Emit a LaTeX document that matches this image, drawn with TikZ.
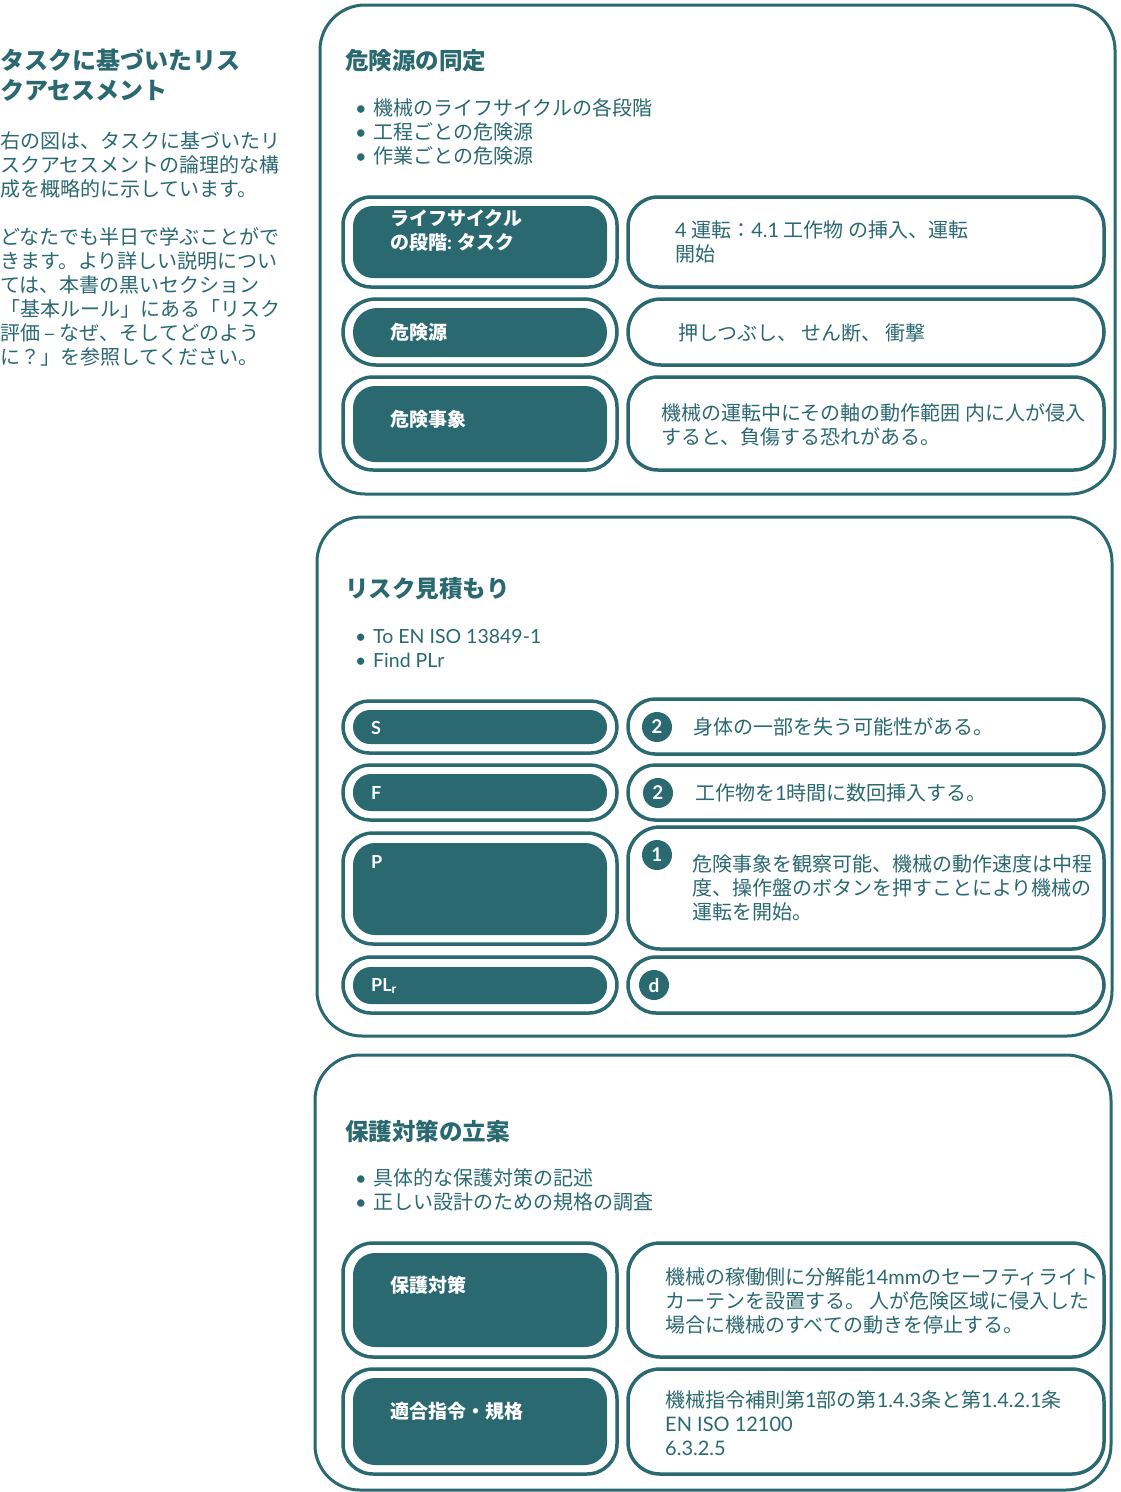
\documentclass[tikz,border=0pt]{standalone}
\usepackage{fontspec}
\setmainfont{Noto Sans CJK JP}
\newfontfamily\lato{Lato}
\newcommand\lt[1]{{\lato #1}}
\newcommand\itm{\makebox[18pt][l]{\lato •}}
\definecolor{riskteal}{RGB}{42,105,112}

\tikzset{
  panel/.style={draw=riskteal,line width=3pt,rounded corners=45pt},
  pillout/.style={draw=riskteal,line width=3.5pt,minimum width=274pt},
  pillin/.style={fill=riskteal,minimum width=254pt},
  infobox/.style={draw=riskteal,line width=3.5pt,minimum width=476pt},
  numdot/.style={circle,fill=riskteal,text=white,inner sep=0pt,minimum size=30pt,
    font=\lato\bfseries\fontsize{19}{20}\selectfont},
  headline/.style={anchor=west,inner sep=0pt,align=left,text=riskteal,
    font=\bfseries\fontsize{23.5}{30}\selectfont},
  body/.style={anchor=west,inner sep=0pt,align=left,text=riskteal,
    font=\fontsize{20}{24}\selectfont},
  tag/.style={anchor=west,inner sep=0pt,align=left,text=white,
    font=\bfseries\fontsize{19}{24}\selectfont}
}

\begin{document}
\begin{tikzpicture}[x=1pt,y=-1pt]
  \useasboundingbox (0,0) rectangle (1120,1492);

  \node[headline,font=\bfseries\fontsize{24}{30}\selectfont] (intro) at (0,75)
    {タスクに基づいたリス\\クアセスメント};
  \node[body] (introtxt) at (0,165)
    {右の図は、タスクに基づいたリ\\スクアセスメントの論理的な構\\成を概略的に示しています。};
  \node[body] (introref) at (0,297)
    {どなたでも半日で学ぶことがで\\きます。より詳しい説明につい\\ては、本書の黒いセクション\\「基本ルール」にある「リスク\\評価 – なぜ、そしてどのよう\\に？」を参照してください。};

  \node[panel,minimum width=795pt,minimum height=489pt] (idpanel) at (717.5,249.5) {};
  \node[headline] (idtitle) at (345,61) {危険源の同定};
  \node[body] (idlist) at (355,132)
    {\itm 機械のライフサイクルの各段階\\\itm 工程ごとの危険源\\\itm 作業ごとの危険源};

  \node[pillout,rounded corners=28pt,minimum height=90pt] (taskout) at (480,242) {};
  \node[pillin,rounded corners=20pt,minimum height=72pt] (taskin) at (480,242) {};
  \node[tag] (tasklbl) at (390,230) {ライフサイクル\\の段階\lt{:} タスク};
  \node[infobox,rounded corners=30pt,minimum height=90pt] (taskbox) at (866,242) {};
  \node[body] (tasktxt) at (675,242) {\lt{4} 運転：\lt{4.1} 工作物 の挿入、運転\\開始};

  \node[pillout,rounded corners=33pt,minimum height=66pt] (hazout) at (480,332) {};
  \node[pillin,rounded corners=24pt,minimum height=49pt] (hazin) at (480,332.5) {};
  \node[tag] (hazlbl) at (390,332) {危険源};
  \node[infobox,rounded corners=33pt,minimum height=66pt] (hazbox) at (866,332) {};
  \node[body] (haztxt) at (678,333) {押しつぶし、 せん断、 衝撃};

  \node[pillout,rounded corners=30pt,minimum height=93pt] (eventout) at (480,423.5) {};
  \node[pillin,rounded corners=22pt,minimum height=76pt] (eventin) at (480,424) {};
  \node[tag] (eventlbl) at (390,419) {危険事象};
  \node[infobox,rounded corners=30pt,minimum height=93pt] (eventbox) at (866,423.5) {};
  \node[body] (eventtxt) at (661,425)
    {機械の運転中にその軸の動作範囲 内に人が侵入\\すると、負傷する恐れがある。};

  \node[panel,minimum width=795pt,minimum height=519pt] (estpanel) at (714.5,776.5) {};
  \node[headline] (esttitle) at (345,589) {リスク見積もり};
  \node[body,font=\lato\fontsize{19.5}{24}\selectfont] (estlist) at (355,648)
    {\itm To EN ISO 13849-1\\\itm Find PLr};

  \node[pillout,rounded corners=26pt,minimum height=52pt] (sout) at (480,727) {};
  \node[pillin,rounded corners=17pt,minimum height=34pt] (sin) at (480,727) {};
  \node[tag,font=\lato\bfseries\fontsize{18}{20}\selectfont] (slbl) at (371,728) {S};
  \node[infobox,rounded corners=27pt,minimum height=55pt] (sbox) at (866,726.5) {};
  \node[numdot] (sdot) at (657,727) {2};
  \node[body] (stxt) at (693,727) {身体の一部を失う可能性がある。};

  \node[pillout,rounded corners=27pt,minimum height=55pt] (fout) at (480,792.5) {};
  \node[pillin,rounded corners=18pt,minimum height=37pt] (fin) at (480,792.5) {};
  \node[tag,font=\lato\bfseries\fontsize{18}{20}\selectfont] (flbl) at (371,793) {F};
  \node[infobox,rounded corners=27pt,minimum height=55pt] (fbox) at (866,792.5) {};
  \node[numdot] (fdot) at (658,793) {2};
  \node[body] (ftxt) at (695,793) {工作物を\lt{1}時間に数回挿入する。};

  \node[pillout,rounded corners=30pt,minimum height=111pt] (pout) at (480,888.5) {};
  \node[pillin,rounded corners=22pt,minimum height=92pt] (pin) at (480,889) {};
  \node[tag,font=\lato\bfseries\fontsize{18}{20}\selectfont] (plbl) at (371,862) {P};
  \node[infobox,rounded corners=32pt,minimum height=122pt] (pbox) at (866,888) {};
  \node[numdot] (pdot) at (657,855) {1};
  \node[body] (ptxt) at (692,888)
    {危険事象を観察可能、機械の動作速度は中程\\度、操作盤のボタンを押すことにより機械の\\運転を開始。};

  \node[pillout,rounded corners=28pt,minimum height=56pt] (plout) at (480,985) {};
  \node[pillin,rounded corners=18pt,minimum height=37pt] (plin) at (480,985.5) {};
  \node[tag,font=\lato\bfseries\fontsize{18}{20}\selectfont] (pllbl) at (371,986) {PL\textsubscript{r}};
  \node[infobox,rounded corners=28pt,minimum height=56pt] (plbox) at (866,985) {};
  \node[numdot] (pldot) at (654,985) {d};

  \node[panel,minimum width=796pt,minimum height=435pt] (measpanel) at (713,1272.5) {};
  \node[headline] (meastitle) at (345,1131) {保護対策の立案};
  \node[body] (measlist) at (355,1190)
    {\itm 具体的な保護対策の記述\\\itm 正しい設計のための規格の調査};

  \node[pillout,rounded corners=30pt,minimum height=114pt] (guardout) at (480,1300) {};
  \node[pillin,rounded corners=22pt,minimum height=94pt] (guardin) at (480,1300) {};
  \node[tag] (guardlbl) at (390,1285) {保護対策};
  \node[infobox,rounded corners=32pt,minimum height=114pt] (guardbox) at (866,1300) {};
  \node[body] (guardtxt) at (665,1301)
    {機械の稼働側に分解能\lt{14mm}のセーフティライト\\カーテンを設置する。 人が危険区域に侵入した\\場合に機械のすべての動きを停止する。};

  \node[pillout,rounded corners=30pt,minimum height=105pt] (stdout) at (480,1421.5) {};
  \node[pillin,rounded corners=22pt,minimum height=87pt] (stdin) at (480,1421.5) {};
  \node[tag] (stdlbl) at (390,1411) {適合指令・規格};
  \node[infobox,rounded corners=32pt,minimum height=105pt] (stdbox) at (866,1421.5) {};
  \node[body] (stdtxt) at (665,1423)
    {機械指令補則第\lt{1}部の第\lt{1.4.3}条と第\lt{1.4.2.1}条\\\lt{EN ISO 12100}\\\lt{6.3.2.5}};

\end{tikzpicture}
\end{document}
